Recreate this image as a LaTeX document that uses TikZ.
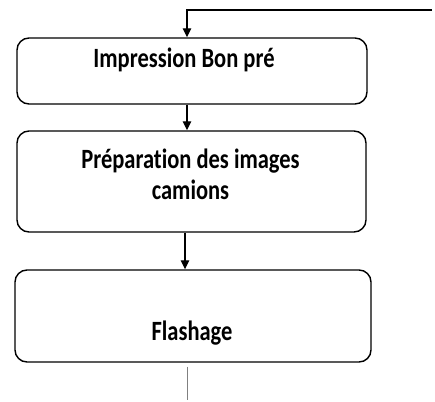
\documentclass[tikz,border=0pt]{standalone}
\usepackage{fontspec}
\setmainfont{Carlito}[Ligatures=NoCommon]
\usetikzlibrary{arrows.meta}
\tikzset{
  stepbox/.style={draw=black, line width=1.4pt, rounded corners=12pt, inner sep=0pt},
  label/.style={inner sep=0pt, anchor=base, font=\bfseries\fontsize{22.5}{27}\selectfont},
  flow/.style={draw=black, line width=1.3pt, -{Triangle[length=9pt,width=8.5pt]}},
  tail/.style={draw=gray, line width=1pt}
}
\newcommand{\tall}[1]{\scalebox{1}[1.24]{#1}}
\begin{document}
\begin{tikzpicture}[x=1pt,y=-1pt]
  \useasboundingbox (0,0) rectangle (435,401);

  % boxes
  \node[stepbox, minimum width=350pt, minimum height=66pt] (box1) at (192,71) {};
  \node[stepbox, minimum width=349pt, minimum height=101pt] (box2) at (191.5,181.5) {};
  \node[stepbox, minimum width=356pt, minimum height=92pt] (box3) at (193,316) {};

  % labels
  \node[label] (t1) at (184,68) {\tall{Impression Bon pré}};
  \node[label] (t2a) at (190.5,168) {\tall{Préparation des images}};
  \node[label] (t2b) at (190.5,199) {\tall{camions}};
  \node[label] (t3) at (192,340) {\tall{Flashage}};

  % connectors
  \coordinate (inR) at (432,10);
  \coordinate (inL) at (187,10);
  \coordinate (colA) at (187,0);
  \coordinate (colB) at (185,0);
  \coordinate (outEnd) at (187,400);

  \draw[flow] (inR) -- (inL) -- (box1.north -| inL);
  \draw[flow] (box1.south -| colA) -- (box2.north -| colA);
  \draw[flow] (box2.south -| colB) -- (box3.north -| colB);
  \draw[tail] ([yshift=-4pt]box3.south -| outEnd) -- (outEnd);
\end{tikzpicture}
\end{document}
